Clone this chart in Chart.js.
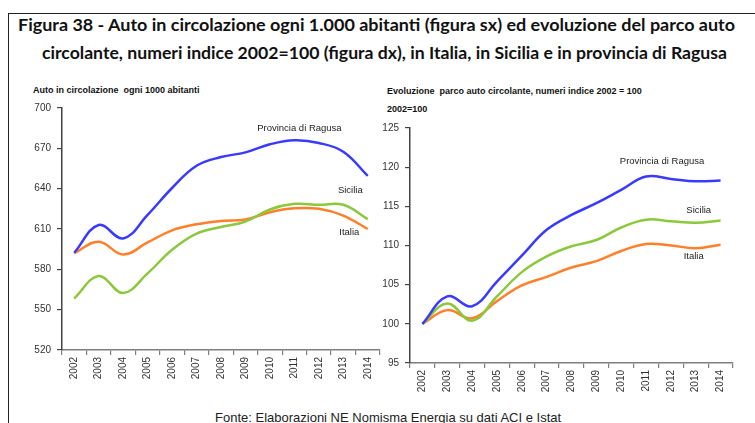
<!DOCTYPE html>
<html><head><meta charset="utf-8">
<script src="https://cdn.jsdelivr.net/npm/chart.js@4"></script>
<style>
html,body{margin:0;padding:0;background:#fff;width:755px;height:423px;overflow:hidden;font-family:"Liberation Sans",Arial,sans-serif;}
#frame{position:absolute;left:8px;top:13px;width:760px;height:430px;border-left:1.5px solid #222;border-top:1.5px solid #222;}
.t{position:absolute;white-space:nowrap;color:#111;}
.title{font-family:Lato,"Liberation Sans",sans-serif;font-weight:bold;font-size:17px;transform-origin:0 50%;}
.sub{font-weight:bold;font-size:9px;color:#111;}
canvas{position:absolute;}
</style></head><body>
<div id="frame"></div>
<div class="t title" id="t1" data-w="717" style="left:18px;top:14px;">Figura 38 - Auto in circolazione ogni 1.000 abitanti (figura sx) ed evoluzione del parco auto</div>
<div class="t title" id="t2" data-w="685" style="left:42px;top:42px;">circolante, numeri indice 2002=100 (figura dx), in Italia, in Sicilia e in provincia di Ragusa</div>
<div class="t sub" style="left:33px;top:85px;">Auto in circolazione&nbsp; ogni 1000 abitanti</div>
<div class="t sub" style="left:387px;top:86px;">Evoluzione&nbsp; parco auto circolante, numeri indice 2002 = 100</div>
<div class="t sub" style="left:387px;top:104px;">2002=100</div>
<div class="t" style="left:215px;top:410px;font-size:13px;color:#222;">Fonte: Elaborazioni NE Nomisma Energia su dati ACI e Istat</div>
<div style="position:absolute;left:20px;top:95px;width:365px;height:295px;"><canvas id="c1"></canvas></div>
<div style="position:absolute;left:370px;top:115px;width:370px;height:288px;"><canvas id="c2"></canvas></div>
<script>
const years = ["2002","2003","2004","2005","2006","2007","2008","2009","2010","2011","2012","2013","2014"];
// Left: auto ogni 1000 abitanti
const ragusaDensity  = [592.3,613,603,620.5,640.5,657,663.5,667,673,676,674,667.5,649.5];
const siciliaDensity = [558.3,575,562.4,577,594.5,606.5,611.5,615.5,624.5,628.7,628,628,617.4];
const italiaDensity  = [592,600.6,591,600,609,613.5,616,617,622.5,625.4,625,620,610];
// Right: numeri indice 2002=100
const ragusaIndex  = [100,103.5,102.25,105.4,108.7,112.0,113.9,115.4,117.1,118.8,118.5,118.2,118.3];
const siciliaIndex = [100,102.6,100.4,103.5,106.6,108.6,109.9,110.7,112.3,113.3,113.1,112.9,113.2];
const italiaIndex  = [100,101.75,100.7,102.9,104.9,106.0,107.2,108.0,109.3,110.2,110,109.65,110.1];
const seriesNames = ["Provincia di Ragusa","Sicilia","Italia"];
const leftTicks = [520,550,580,610,640,670,700];
const rightTicks = [95,100,105,110,115,120,125];

const colors = ["#3a3aff","#8cc83c","#ff7f2a"];

// fit titles
document.querySelectorAll('.title').forEach(el=>{
  const w = el.getBoundingClientRect().width;
  el.style.transform = 'scaleX(' + (parseFloat(el.dataset.w)/w) + ')';
});

const labelPlugin = {
  id:'seriesLabels',
  afterDatasetsDraw(chart, args, opts){
    const ctx = chart.ctx;
    ctx.save();
    ctx.font = '9.5px "Liberation Sans", Arial, sans-serif';
    ctx.fillStyle = '#222';
    ctx.textAlign = 'center';
    ctx.textBaseline = 'middle';
    (opts.items||[]).forEach(it=>{
      const ds = chart.data.datasets[it.ds];
      const x = chart.scales.x.getPixelForValue(it.at) + it.dx;
      const y = chart.scales.y.getPixelForValue(ds.data[it.at]) + it.dy;
      ctx.fillText(ds.label, x, y);
    });
    ctx.restore();
  }
};

function makeChart(id, series, tickVals, yw, padTop, padRight, labels){
  const min = tickVals[0], max = tickVals[tickVals.length-1];
  const step = tickVals[1]-tickVals[0];
  return new Chart(document.getElementById(id), {
    type:'line',
    data:{labels:years, datasets: series.map((d,i)=>({
      label:seriesNames[i], data:d, borderColor:colors[i], backgroundColor:colors[i],
      borderWidth:2.5, pointRadius:0, tension:0.4, fill:false
    }))},
    options:{
      responsive:true, maintainAspectRatio:false, animation:false,
      layout:{padding:{top:padTop,right:padRight,left:0,bottom:0}},
      plugins:{legend:{display:false}, tooltip:{enabled:false}, seriesLabels:{items:labels}},
      scales:{
        x:{offset:true,
          grid:{display:true, drawOnChartArea:false, offset:true, tickLength:5, color:'#7f7f7f', lineWidth:1.2},
          border:{display:true, color:'#7f7f7f', width:1.5},
          ticks:{maxRotation:90, minRotation:90, padding:2, color:'#333', font:{family:'"Liberation Sans", Arial', size:10}},
          afterFit(s){ s.height = 40; }
        },
        y:{min:min, max:max,
          afterBuildTicks(s){ s.ticks = tickVals.map(v=>({value:v})); },
          grid:{display:true, drawOnChartArea:false, tickLength:5, color:'#444', lineWidth:1.2},
          border:{display:true, color:'#444', width:1.5},
          ticks:{padding:6, color:'#333', font:{family:'"Liberation Sans", Arial', size:10}, stepSize:step},
          afterFit(s){ s.width = yw; }
        }
      }
    },
    plugins:[labelPlugin]
  });
}

makeChart('c1', [ragusaDensity, siciliaDensity, italiaDensity], leftTicks, 42, 13, 5, [
  {ds:0, at:9, dx:5, dy:-12},
  {ds:1, at:11, dx:7, dy:-14},
  {ds:2, at:11, dx:6, dy:17}
]);
makeChart('c2', [ragusaIndex, siciliaIndex, italiaIndex], rightTicks, 40, 13, 7, [
  {ds:0, at:9, dx:16, dy:-15},
  {ds:1, at:11, dx:3, dy:-12},
  {ds:2, at:11, dx:-2, dy:8}
]);
</script>
</body></html>
